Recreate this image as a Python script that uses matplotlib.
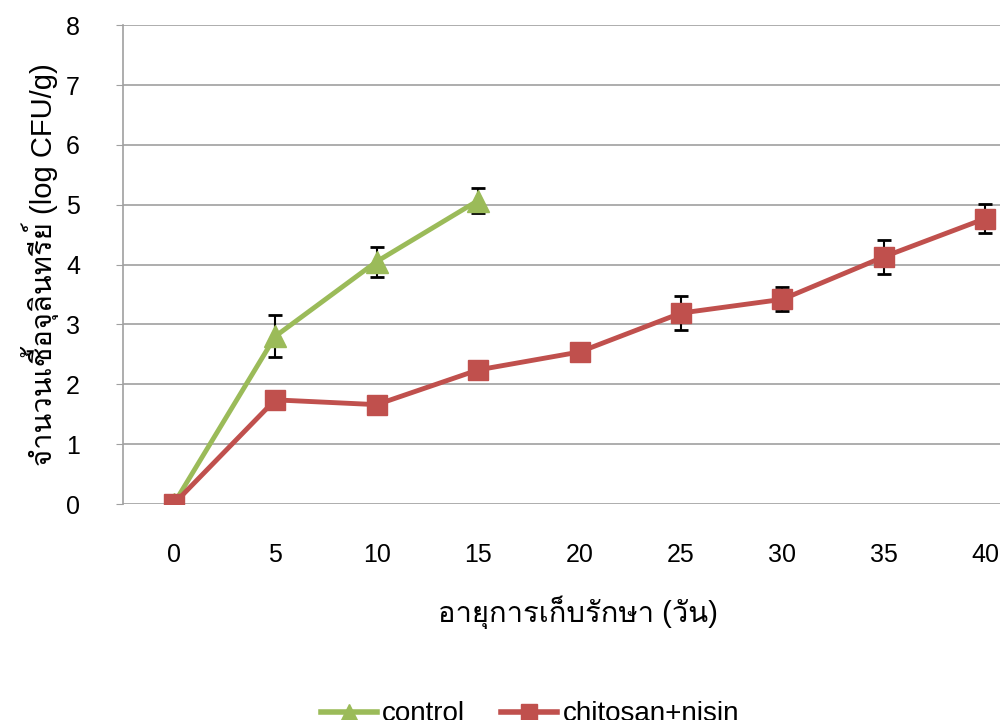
import matplotlib
matplotlib.use("Agg")
import matplotlib.pyplot as plt
from matplotlib import font_manager, ft2font
from matplotlib.lines import Line2D

# datos
dias = [0, 5, 10, 15, 20, 25, 30, 35, 40]
dias_control = [0, 5, 10, 15]
control = [0.0, 2.80, 4.05, 5.07]
control_err = [0.0, 0.35, 0.25, 0.21]
quito_nisina = [0.0, 1.74, 1.66, 2.24, 2.54, 3.19, 3.42, 4.13, 4.77]
quito_err = [0.0, 0.05, 0.15, 0.10, 0.05, 0.28, 0.20, 0.28, 0.25]
ticks_y = [0, 1, 2, 3, 4, 5, 6, 7, 8]

# buscar una fuente con glifos tailandeses
fuente_thai = None
for f in font_manager.fontManager.ttflist:
    try:
        cm = ft2font.FT2Font(f.fname).get_charmap()
    except Exception:
        continue
    if 0x0E08 in cm and 0x0E33 in cm:
        fuente_thai = f.name
        break
familias = ["Liberation Sans"] + ([fuente_thai] if fuente_thai else []) + ["DejaVu Sans"]
plt.rcParams["font.family"] = familias

verde = "#9BBB59"
rojo = "#C0504D"
gris = "#A0A0A0"

fig = plt.figure(figsize=(10, 7.2), dpi=100)
ax = fig.add_axes([0.123, 0.30, 0.913, 0.665])

ax.errorbar(dias_control, control, yerr=control_err, color=verde, lw=3.5,
            marker="^", ms=16, mfc=verde, mec=verde, ecolor="black",
            elinewidth=1.5, capsize=5, capthick=2, zorder=3)
ax.errorbar(dias, quito_nisina, yerr=quito_err, color=rojo, lw=3.5,
            marker="s", ms=14, mfc=rojo, mec=rojo, ecolor="black",
            elinewidth=1.5, capsize=5, capthick=2, zorder=4)

ax.set_xlim(-2.5, 42.5)
ax.set_ylim(0, 8)
ax.set_yticks(ticks_y)
ax.set_xticks(dias)
ax.tick_params(axis="y", length=5, color=gris, labelsize=18, pad=26)
ax.tick_params(axis="x", length=0, labelsize=18, pad=28)
ax.grid(axis="y", color=gris, lw=1.2)
ax.set_axisbelow(True)
for s in ["top", "right", "bottom"]:
    ax.spines[s].set_visible(False)
ax.spines["left"].set_color(gris)
ax.spines["left"].set_linewidth(1.2)

fig.text(0.578, 0.15, "อายุการเก็บรักษา (วัน)", ha="center", va="center", fontsize=21)
fig.text(0.040, 0.633, "จำนวนเชื้อจุลินทรีย์ (log CFU/g)", ha="center", va="center",
         rotation=90, fontsize=21)

h_control = Line2D([], [], color=verde, lw=4, marker="^", ms=11)
h_quito = Line2D([], [], color=rojo, lw=4, marker="s", ms=11)
fig.legend([h_control, h_quito], ["control", "chitosan+nisin"], loc="center",
           bbox_to_anchor=(0.53, 0.008), ncol=2, frameon=False, fontsize=20,
           handlelength=2.0, columnspacing=1.3, handletextpad=0.2)

fig.savefig("out.png", dpi=100)
